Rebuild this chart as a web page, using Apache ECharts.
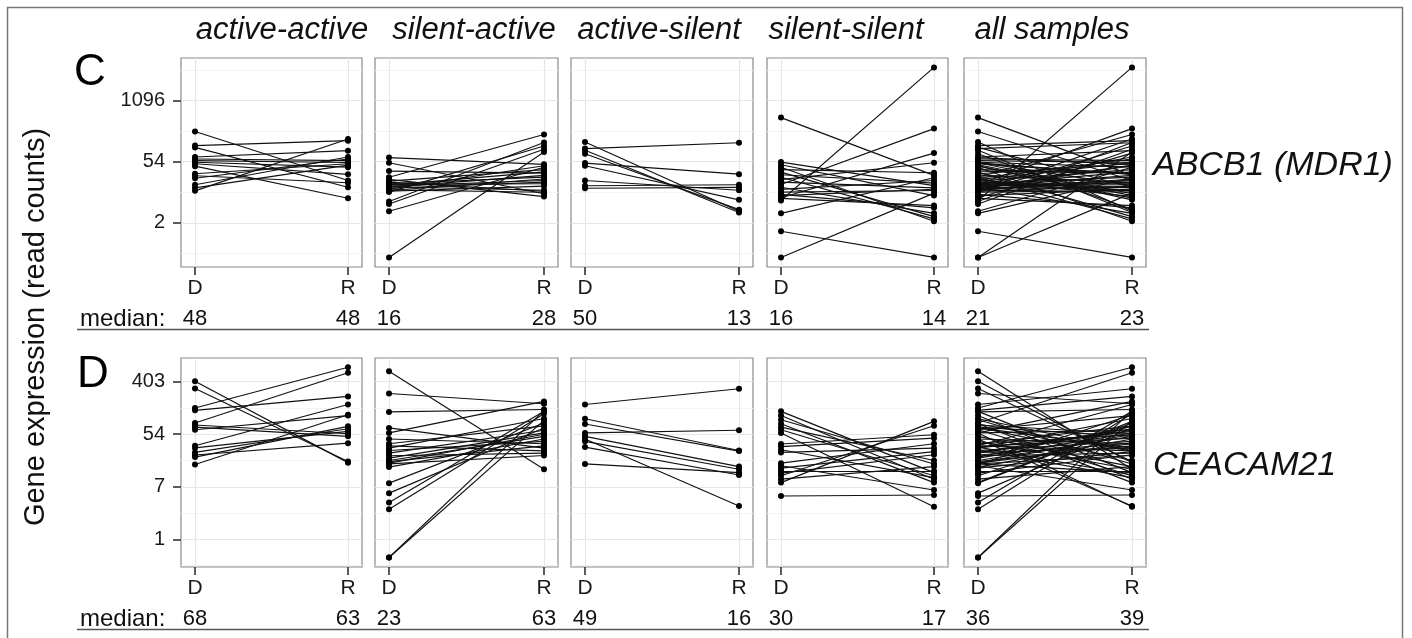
<!DOCTYPE html>
<html>
<head>
<meta charset="utf-8">
<script src="https://cdn.jsdelivr.net/npm/echarts@6/dist/echarts.min.js"></script>
<style>
  html, body { margin: 0; padding: 0; background: #fff; }
  #main { width: 1412px; height: 638px; }
</style>
</head>
<body>
<div id="main"></div>
<script>
// values are ln(read counts), paired by index: D[i] -> R[i]
var panelTitles = ['active-active', 'silent-active', 'active-silent', 'silent-silent', 'all samples'];
var timeLabels = ['D', 'R'];

// ABCB1 (MDR1)
var abcb1AAd = [5.48, 4.79, 4.70, 4.23, 4.13, 4.05, 3.97, 3.90, 3.78, 3.41, 3.31, 3.19, 2.87, 2.72, 2.57];
var abcb1AAr = [3.08, 5.03, 2.75, 4.54, 4.05, 3.96, 3.73, 3.38, 2.21, 3.90, 2.97, 4.13, 4.23, 3.83, 5.11];
var abcb1SAd = [4.20, 3.95, 3.54, 3.24, 3.13, 3.05, 3.00, 2.92, 2.88, 2.85, 2.80, 2.77, 2.75, 2.70, 2.65, 2.62, 2.59, 2.55, 2.51, 2.05, 1.93, 1.57, -0.69];
var abcb1SAr = [3.87, 2.43, 3.44, 5.33, 2.29, 3.61, 2.55, 3.24, 2.92, 3.50, 3.08, 2.60, 3.33, 3.00, 3.80, 2.50, 3.15, 2.80, 4.77, 4.94, 4.61, 3.73, 4.47];
var abcb1ASd = [4.96, 4.64, 4.56, 4.39, 3.93, 3.80, 3.08, 2.82, 2.70];
var abcb1ASr = [1.57, 4.93, 1.51, 1.65, 3.39, 2.13, 2.60, 2.87, 2.74];
var abcb1SSd = [6.16, 3.98, 3.85, 3.73, 3.61, 3.49, 3.36, 3.24, 3.12, 3.00, 2.88, 2.75, 2.64, 2.51, 2.40, 2.34, 2.23, 2.20, 2.10, 1.47, 0.59, -0.69];
var abcb1SSr = [3.33, 2.83, 2.34, 1.08, 3.46, 1.31, 2.95, 1.20, 3.95, 2.72, 5.62, 1.47, 3.08, 2.59, 1.74, 2.65, 4.42, 1.85, 8.62, 3.21, -0.69, 2.46];
var abcb1MedianD = [48, 16, 50, 16, 21];
var abcb1MedianR = [48, 28, 13, 14, 23];
var abcb1Ticks = [1, 4, 7];
var abcb1TickLabels = ['2', '54', '1096'];

// CEACAM21
var ceacamAAd = [6.02, 5.74, 5.00, 4.91, 4.43, 4.35, 4.27, 4.17, 3.56, 3.48, 3.31, 3.21, 3.13, 2.85];
var ceacamAAr = [2.92, 2.96, 6.55, 5.44, 6.34, 4.02, 3.92, 4.71, 5.13, 4.11, 4.21, 3.66, 4.30, 4.74];
var ceacamSAd = [6.40, 5.55, 4.85, 4.24, 4.05, 3.82, 3.64, 3.56, 3.47, 3.38, 3.28, 3.18, 3.09, 3.00, 2.96, 2.90, 2.87, 2.75, 2.14, 1.76, 1.40, 1.15, -0.69, -0.69];
var ceacamSAr = [2.67, 5.16, 4.94, 3.47, 5.25, 3.64, 4.32, 3.37, 4.60, 3.73, 4.15, 3.28, 4.05, 3.92, 3.56, 4.00, 3.19, 3.82, 4.43, 4.24, 4.87, 4.78, 4.90, 4.53];
var ceacamASd = [5.13, 4.59, 4.39, 4.05, 3.92, 3.82, 3.73, 3.51, 2.87];
var ceacamASr = [5.73, 3.38, 3.36, 4.15, 2.77, 1.27, 2.67, 2.45, 2.54];
var ceacamSSd = [4.87, 4.71, 4.55, 4.40, 4.27, 4.17, 4.05, 3.63, 3.53, 3.41, 3.31, 2.90, 2.80, 2.71, 2.61, 2.52, 2.42, 2.29, 2.16, 1.65];
var ceacamSSr = [2.54, 2.29, 2.87, 2.16, 3.00, 2.42, 1.24, 3.98, 3.85, 2.35, 3.47, 3.64, 1.88, 3.34, 2.60, 3.22, 4.32, 2.77, 4.49, 1.69];
var ceacamMedianD = [68, 23, 49, 30, 36];
var ceacamMedianR = [63, 63, 16, 17, 39];
var ceacamTicks = [0, 2, 4, 6];
var ceacamTickLabels = ['1', '7', '54', '403'];

var FONT = '"Liberation Sans", Arial, Helvetica, sans-serif';

// "all samples" = every pair of the other four panels
function withAll(dList, rList) {
  var allD = [].concat.apply([], dList);
  var allR = [].concat.apply([], rList);
  return { d: dList.concat([allD]), r: rList.concat([allR]) };
}
var rows = [
  {
    gene: 'ABCB1 (MDR1)', letter: 'C',
    sets: withAll([abcb1AAd, abcb1SAd, abcb1ASd, abcb1SSd], [abcb1AAr, abcb1SAr, abcb1ASr, abcb1SSr]),
    medD: abcb1MedianD, medR: abcb1MedianR,
    ticks: abcb1Ticks, tickLabels: abcb1TickLabels,
    minor: [-0.5, 2.5, 5.5, 8.5], yMin: -1.16, yMax: 9.08
  },
  {
    gene: 'CEACAM21', letter: 'D',
    sets: withAll([ceacamAAd, ceacamSAd, ceacamASd, ceacamSSd], [ceacamAAr, ceacamSAr, ceacamASr, ceacamSSr]),
    medD: ceacamMedianD, medR: ceacamMedianR,
    ticks: ceacamTicks, tickLabels: ceacamTickLabels,
    minor: [-1, 1, 3, 5], yMin: -1.05, yMax: 6.90
  }
];

// layout
var panelLeft = [181, 375, 571, 767, 964];
var panelWidth = [181, 183, 182, 181, 182];
var rowTop = [58, 358];
var panelHeight = 209;
var edgePad = 14;
var titleCenter = [282, 474, 659, 846, 1052];

var grids = [], xAxes = [], yAxes = [], series = [], graphics = [];

rows.forEach(function (row, r) {
  for (var c = 0; c < 5; c++) {
    var k = r * 5 + c;
    var w = panelWidth[c];
    var span = w - 2 * edgePad;
    var xMin = -edgePad / span, xMax = 1 + edgePad / span;
    grids.push({
      left: panelLeft[c], top: rowTop[r], width: w, height: panelHeight,
      show: true, borderColor: '#8a8a8a', borderWidth: 1.2, backgroundColor: '#fff',
      containLabel: false, outerBoundsMode: 'none'
    });
    xAxes.push({
      type: 'value', gridIndex: k, min: xMin, max: xMax, position: 'bottom',
      axisLine: { show: false, onZero: false }, splitLine: { show: false },
      axisTick: { show: true, customValues: [0, 1], length: 8, lineStyle: { color: '#333', width: 1.6 } },
      axisLabel: {
        show: true, customValues: [0, 1], margin: 11,
        formatter: function (v) { return timeLabels[Math.round(v)]; },
        fontFamily: FONT, fontSize: 21, color: '#1a1a1a'
      }
    });
    yAxes.push({
      type: 'value', gridIndex: k, min: row.yMin, max: row.yMax, position: 'left',
      show: c === 0,
      axisLine: { show: false, onZero: false }, splitLine: { show: false },
      axisTick: { show: true, customValues: row.ticks, length: 8, lineStyle: { color: '#333', width: 1.6 } },
      axisLabel: {
        show: true, customValues: row.ticks, margin: 16,
        formatter: (function (ticks, labels) {
          return function (v) { var i = ticks.indexOf(v); return i >= 0 ? labels[i] : ''; };
        })(row.ticks, row.tickLabels),
        fontFamily: FONT, fontSize: 20, color: '#1a1a1a'
      }
    });

    var dVals = row.sets.d[c], rVals = row.sets.r[c];
    var pts = [], segs = [];
    for (var i = 0; i < dVals.length; i++) {
      pts.push([0, dVals[i]], [1, rVals[i]]);
      segs.push({ coords: [[0, dVals[i]], [1, rVals[i]]] });
    }
    var gridLines = [];
    row.minor.forEach(function (v) {
      gridLines.push({ yAxis: v, lineStyle: { color: '#f4f4f4', width: 1, type: 'solid' } });
    });
    row.ticks.forEach(function (v) {
      gridLines.push({ yAxis: v, lineStyle: { color: '#e6e6e6', width: 1.2, type: 'solid' } });
    });
    [0, 1].forEach(function (v) {
      gridLines.push({ xAxis: v, lineStyle: { color: '#e6e6e6', width: 1.2, type: 'solid' } });
    });
    series.push({
      type: 'scatter', xAxisIndex: k, yAxisIndex: k, data: pts,
      symbol: 'circle', symbolSize: 6, itemStyle: { color: '#000', opacity: 1 },
      silent: true, z: 3,
      markLine: { silent: true, symbol: 'none', label: { show: false }, animation: false, z: 1, data: gridLines }
    });
    series.push({
      type: 'lines', coordinateSystem: 'cartesian2d', xAxisIndex: k, yAxisIndex: k,
      data: segs, polyline: false, silent: true, z: 2,
      lineStyle: { color: '#111', width: 1.15, opacity: 1 }
    });

    // medians under the panel
    var dx = panelLeft[c] + edgePad, rx = panelLeft[c] + w - edgePad;
    var my = rowTop[r] + panelHeight + 52;
    graphics.push({ type: 'text', x: dx, y: my, style: { text: String(row.medD[c]), textAlign: 'center', textVerticalAlign: 'middle', font: '22px ' + FONT, fill: '#111' } });
    graphics.push({ type: 'text', x: rx, y: my, style: { text: String(row.medR[c]), textAlign: 'center', textVerticalAlign: 'middle', font: '22px ' + FONT, fill: '#111' } });
  }
  var baseY = rowTop[r] + panelHeight + 52;
  graphics.push({ type: 'text', x: 80, y: baseY, style: { text: 'median:', textAlign: 'left', textVerticalAlign: 'middle', font: '24px ' + FONT, fill: '#111' } });
  graphics.push({ type: 'line', shape: { x1: 77, y1: baseY + 10.5, x2: 1149, y2: baseY + 10.5 }, style: { stroke: '#555', lineWidth: 1.5 } });
  graphics.push({ type: 'text', x: 1153, y: rowTop[r] + 108, style: { text: row.gene, textAlign: 'left', textVerticalAlign: 'middle', font: 'italic 34px ' + FONT, fill: '#111' } });
  graphics.push({ type: 'text', x: r === 0 ? 74 : 77, y: r === 0 ? 73 : 375, style: { text: row.letter, textAlign: 'left', textVerticalAlign: 'middle', font: '44px ' + FONT, fill: '#000' } });
});

panelTitles.forEach(function (t, c) {
  graphics.push({ type: 'text', x: titleCenter[c], y: 30, style: { text: t, textAlign: 'center', textVerticalAlign: 'middle', font: 'italic 31px ' + FONT, fill: '#111' } });
});
graphics.push({ type: 'text', x: 36, y: 327, rotation: Math.PI / 2, style: { text: 'Gene expression (read counts)', textAlign: 'center', textVerticalAlign: 'middle', font: '29px ' + FONT, fill: '#111' } });
graphics.push({ type: 'rect', shape: { x: 7.5, y: 7.5, width: 1395, height: 660 }, style: { fill: 'none', stroke: '#777', lineWidth: 1.5 }, z: -1 });

var chartDom = document.getElementById('main');
var myChart = echarts.init(chartDom, null, { renderer: 'canvas' });
var option = {
  animation: false,
  backgroundColor: '#fff',
  grid: grids,
  xAxis: xAxes,
  yAxis: yAxes,
  series: series,
  graphic: { elements: graphics }
};
myChart.setOption(option);
</script>
</body>
</html>
